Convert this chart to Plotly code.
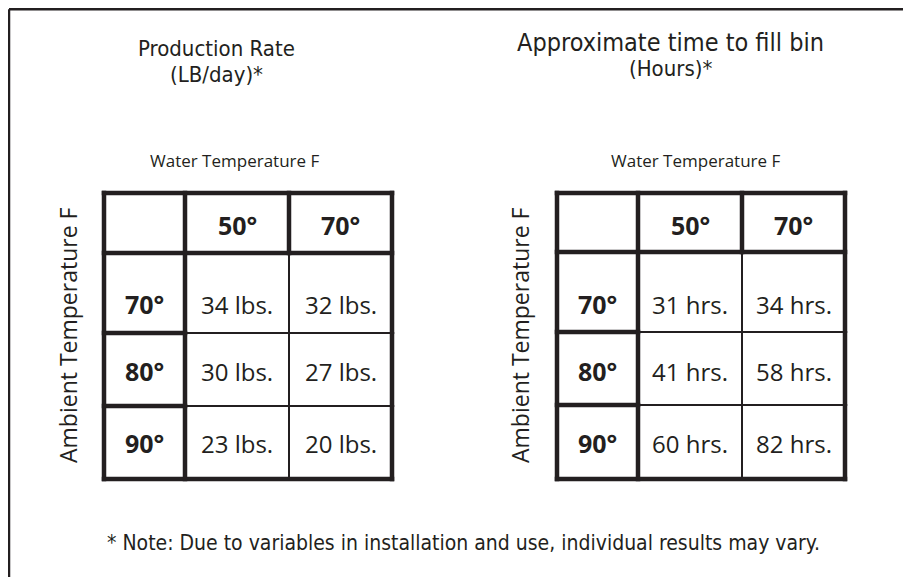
import plotly.graph_objects as go

# ---------------- data ----------------
water_temps = ["50°", "70°"]
ambient_temps = ["70°", "80°", "90°"]
production_lbs = [[34, 32], [30, 27], [23, 20]]
fill_hours = [[31, 34], [41, 58], [60, 82]]
titles = [["Production Rate", "(LB/day)*"], ["Approximate time to fill bin", "(Hours)*"]]
units = ["lbs.", "hrs."]
col_axis_title = "Water Temperature F"
row_axis_title = "Ambient Temperature F"
footnote = "* Note: Due to variables in installation and use, individual results may vary."

# ---------------- layout constants ----------------
W, H = 911, 577          # page size
OX, OY = 8, 8            # page body margin: figure starts here
INK = "#231f20"
COND = "DejaVu Sans Condensed, sans-serif"
REG = "Open Sans, sans-serif"
THICK, THIN = 4.5, 2.0

tables = [
    dict(cols=[104, 185, 289, 392], rows=[193, 253, 333, 406, 479],
         text_y=[225, 304, 371, 443], values=production_lbs, unit=units[0],
         title=titles[0], title_x=216, title_y=[48, 74], title_size=[22, 22],
         wt_x=234, at_x=68),
    dict(cols=[557, 638, 742, 845], rows=[193, 252, 332, 405, 479],
         text_y=[225, 304, 371, 443], values=fill_hours, unit=units[1],
         title=titles[1], title_x=670, title_y=[42, 68], title_size=[25, 22],
         wt_x=695, at_x=520),
]

fig = go.Figure()
shapes = []
annotations = []


def line(x0, y0, x1, y1, w):
    if y0 == y1:
        x0 -= THICK / 2
        x1 += THICK / 2
    elif w == THICK:
        y0 -= THICK / 2
        y1 += THICK / 2
    shapes.append(dict(type="line", xref="x", yref="y", x0=x0, y0=y0, x1=x1, y1=y1,
                       line=dict(color=INK, width=w), layer="above"))


def text(x, y, s, size, family=REG, bold=False, angle=0):
    annotations.append(dict(x=x, y=y, xref="x", yref="y", text=f"<b>{s}</b>" if bold else s,
                            showarrow=False, textangle=angle, xanchor="center", yanchor="middle",
                            font=dict(family=family, size=size, color=INK)))


for t in tables:
    c, r = t["cols"], t["rows"]
    for i, y in enumerate(r):
        if i in (0, 1, len(r) - 1):
            line(c[0], y, c[-1], y, THICK)
        else:
            line(c[0], y, c[1], y, THICK)
            line(c[1], y, c[-1], y, THIN)
    for j, x in enumerate(c):
        if j == 2:
            line(x, r[0], x, r[1], THICK)
            line(x, r[1], x, r[-1], THIN)
        else:
            line(x, r[0], x, r[-1], THICK)
    for j, wt in enumerate(water_temps):
        text((c[j + 1] + c[j + 2]) / 2, t["text_y"][0], wt, 25, bold=True)
    for i, at in enumerate(ambient_temps):
        text((c[0] + c[1]) / 2, t["text_y"][i + 1], at, 25, bold=True)
        for j in range(len(water_temps)):
            text((c[j + 1] + c[j + 2]) / 2, t["text_y"][i + 1],
                 f"{t['values'][i][j]} {t['unit']}", 24)
    text(t["title_x"], t["title_y"][0], t["title"][0], t["title_size"][0], family=COND)
    text(t["title_x"], t["title_y"][1], t["title"][1], t["title_size"][1], family=COND)
    text(t["wt_x"], 160, col_axis_title, 17)
    text(t["at_x"], 335, row_axis_title, 23, angle=-90)

text(463, 543, footnote, 21, family=COND)

# outer frame (top and left edges; continues past the image)
shapes.append(dict(type="line", xref="x", yref="y", x0=9, y0=9.2, x1=W + 10, y1=9.2,
                   line=dict(color=INK, width=2.5)))
shapes.append(dict(type="line", xref="x", yref="y", x0=9, y0=9.2, x1=9, y1=H + 10,
                   line=dict(color=INK, width=2.5)))

fig.update_layout(
    width=W - OX, height=H - OY, margin=dict(l=0, r=0, t=0, b=0),
    paper_bgcolor="white", plot_bgcolor="white", showlegend=False,
    xaxis=dict(range=[OX, W], visible=False, fixedrange=True),
    yaxis=dict(range=[H, OY], visible=False, fixedrange=True),
    shapes=shapes, annotations=annotations,
)

fig.write_html("out.html")
